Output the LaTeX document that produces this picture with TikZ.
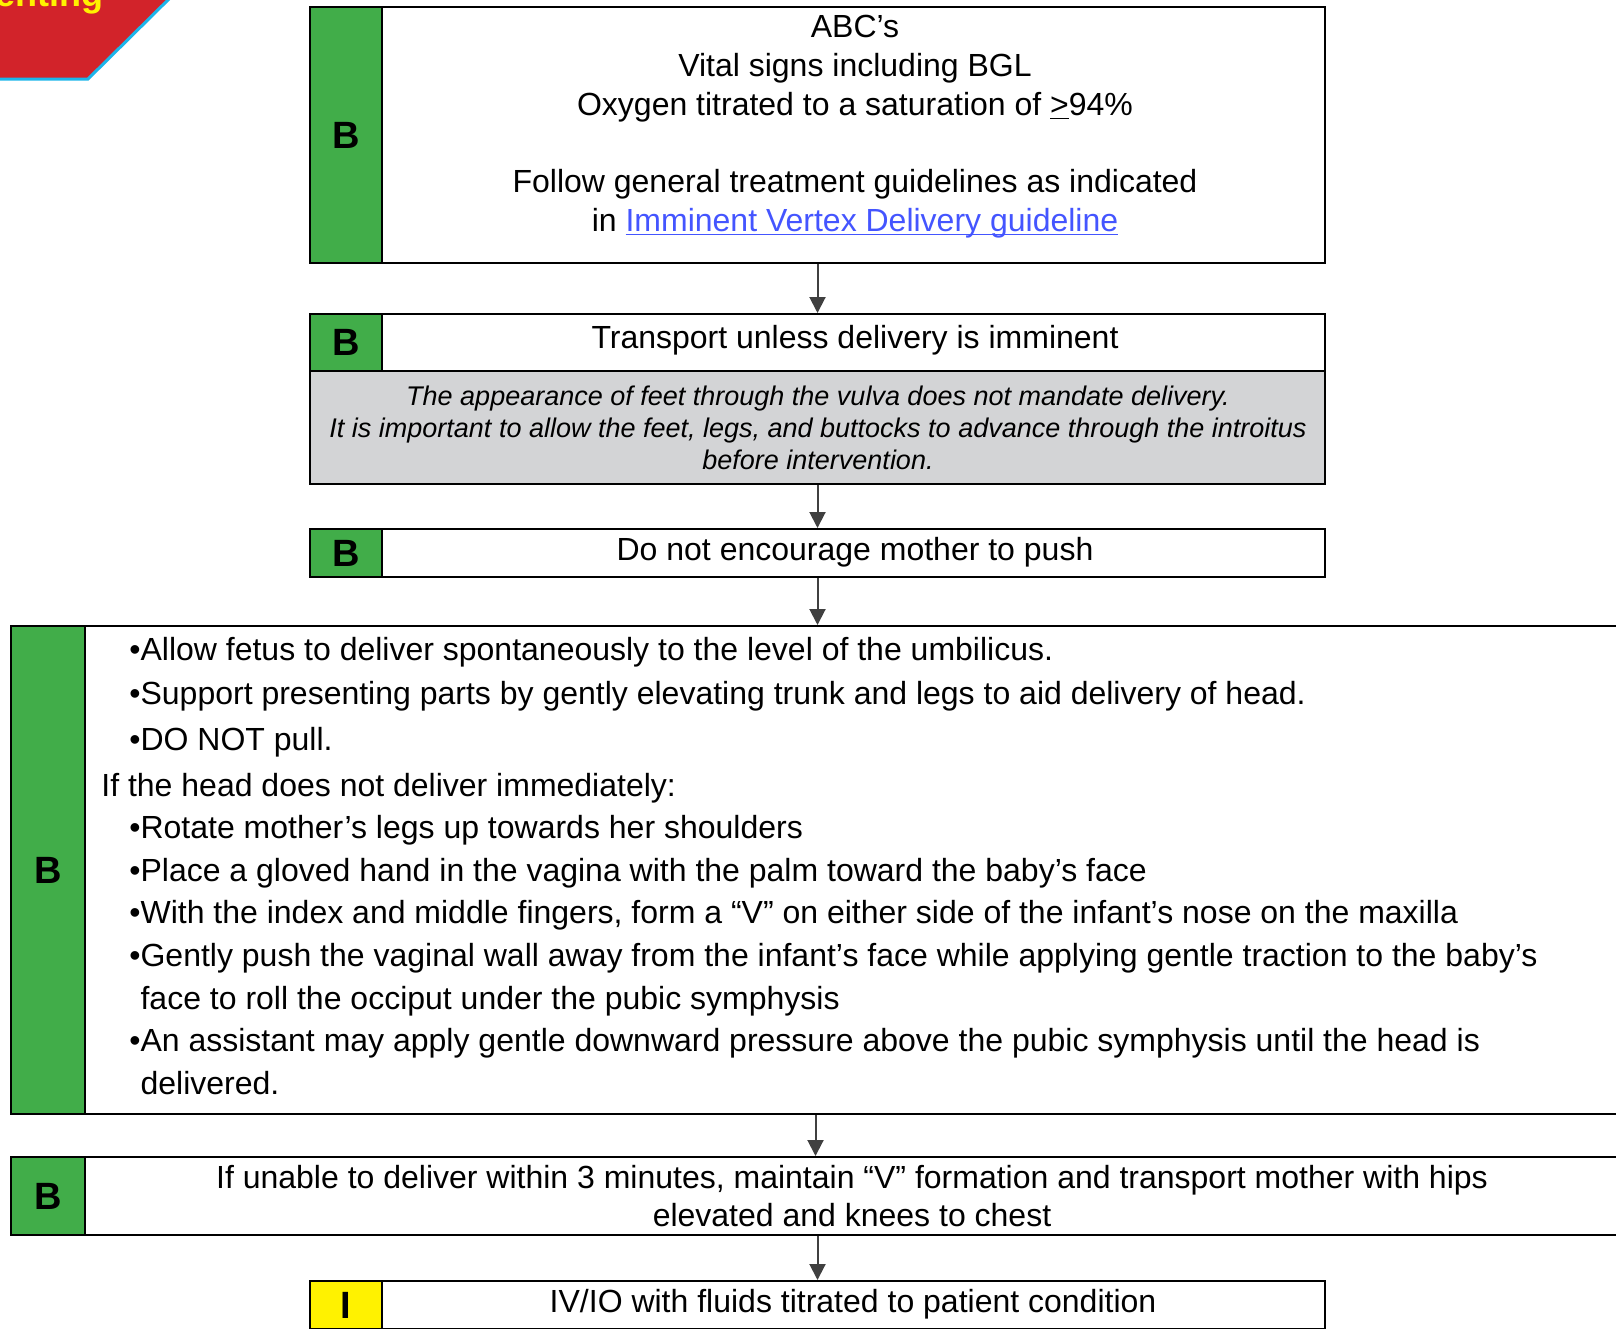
\documentclass[tikz,border=0pt]{standalone}
\usepackage{fontspec}
\setmainfont{Liberation Sans}
\usetikzlibrary{arrows.meta,fit,positioning}

\definecolor{levelgreen}{HTML}{41AD49}
\definecolor{levelyellow}{HTML}{FFF200}
\definecolor{notegray}{HTML}{D3D4D6}
\definecolor{bannerred}{HTML}{D2232A}
\definecolor{bannerblue}{HTML}{1CB5EA}
\definecolor{linkblue}{HTML}{4455FF}
\definecolor{arrowgray}{HTML}{404040}

% underline sitting just under the baseline
\newcommand{\lowline}[1]{\underline{\smash{#1}}}

\begin{document}
\begin{tikzpicture}[x=0.5pt,y=-0.5pt,
    >={Triangle[length=8pt,width=8pt]},
    box/.style={draw=black, line width=1pt, inner sep=0pt, fill=white},
    tag/.style={box, fill=levelgreen},
    tagtxt/.style={inner sep=0pt, font=\bfseries\fontsize{19}{19}\selectfont},
    txt/.style={font=\fontsize{16}{19.4}\selectfont, align=center, inner sep=0pt},
    flow/.style={->, draw=arrowgray, line width=1pt}]

    \useasboundingbox (0,0) rectangle (1616,1328);

    % Banner in the corner
    \fill[bannerred] (0,-5) -- (173,-5) -- (88,79) -- (0,79) -- cycle;
    \draw[bannerblue, line width=1.5pt] (0,79) -- (88,79) -- (173,-5);
    \node[anchor=base east, inner sep=0pt, text=levelyellow,
          font=\bfseries\fontsize{18}{18}\selectfont] (banner) at (104,6) {Presenting};

    % Assessment box
    \node[box, fit={(310,7) (1325,263)}] (b1) {};
    \node[tag, fit={(310,7) (382,263)}] (b1tag) {};
    \node[tagtxt] at (b1tag.center) {B};
    \node[txt, anchor=north] (b1txt) at (855,15) {ABC’s\\
        Vital signs including BGL\\
        Oxygen titrated to a saturation of \lowline{>}94\%\\[19.4pt]
        Follow general treatment guidelines as indicated\\
        in \textcolor{linkblue}{\lowline{Imminent Vertex Delivery guideline}}};

    % Transport box with note
    \node[box, fit={(310,314) (1325,371)}] (b2) {};
    \node[box, fill=notegray, fit={(310,371) (1325,484)}] (b2note) {};
    \node[tag, fit={(310,314) (382,371)}] (b2tag) {};
    \node[tagtxt] at (b2tag.center) {B};
    \node[txt] (b2txt) at (855,340) {Transport unless delivery is imminent};
    \node[txt, font=\itshape\fontsize{13.5}{16}\selectfont] (b2notetxt) at (818,428)
        {The appearance of feet through the vulva does not mandate delivery.\\
         It is important to allow the feet, legs, and buttocks to advance through the introitus\\
         before intervention.};

    % Do not push
    \node[box, fit={(310,529) (1325,577)}] (b3) {};
    \node[tag, fit={(310,529) (382,577)}] (b3tag) {};
    \node[tagtxt] at (b3tag.center) {B};
    \node[txt] (b3txt) at (855,552) {Do not encourage mother to push};

    % Delivery steps
    \node[box, fit={(11,626) (1620,1114)}] (b4) {};
    \node[tag, fit={(11,626) (85,1114)}] (b4tag) {};
    \node[tagtxt] at (b4tag.center) {B};
    \node[anchor=north west, inner sep=0pt, align=left,
          font=\fontsize{16}{21.3}\selectfont] (b4txt) at (101,637) {%
        \hspace*{14pt}•Allow fetus to deliver spontaneously to the level of the umbilicus.\\[0.8pt]
        \hspace*{14pt}•Support presenting parts by gently elevating trunk and legs to aid delivery of head.\\[1.3pt]
        \hspace*{14pt}•DO NOT pull.\\[1.7pt]
        If the head does not deliver immediately:\\
        \hspace*{14pt}•Rotate mother’s legs up towards her shoulders\\
        \hspace*{14pt}•Place a gloved hand in the vagina with the palm toward the baby’s face\\
        \hspace*{14pt}•With the index and middle fingers, form a “V” on either side of the infant’s nose on the maxilla\\
        \hspace*{14pt}•Gently push the vaginal wall away from the infant’s face while applying gentle traction to the baby’s\\
        \hspace*{14pt}\phantom{•}face to roll the occiput under the pubic symphysis\\
        \hspace*{14pt}•An assistant may apply gentle downward pressure above the pubic symphysis until the head is\\
        \hspace*{14pt}\phantom{•}delivered.};

    % Unable to deliver
    \node[box, fit={(11,1157) (1620,1235)}] (b5) {};
    \node[tag, fit={(11,1157) (85,1235)}] (b5tag) {};
    \node[tagtxt] at (b5tag.center) {B};
    \node[txt, font=\fontsize{16}{19}\selectfont] (b5txt) at (852,1196)
        {If unable to deliver within 3 minutes, maintain “V” formation and transport mother with hips\\
         elevated and knees to chest};

    % IV/IO
    \node[box, fit={(310,1281) (1325,1329)}] (b6) {};
    \node[tag, fill=levelyellow, fit={(310,1281) (382,1329)}] (b6tag) {};
    \node[tagtxt] at (b6tag.center) {I};
    \node[txt] (b6txt) at (853,1304) {IV/IO with fluids titrated to patient condition};

    % Arrows
    \draw[flow] (b1.south) -- (b2.north);
    \draw[flow] (b2note.south) -- (b3.north);
    \draw[flow] (b3.south) -- (b3.south |- b4.north);
    \draw[flow] (b4.south) -- (b5.north);
    \draw[flow] (b5.south -| b6.north) -- (b6.north);

\end{tikzpicture}
\end{document}
